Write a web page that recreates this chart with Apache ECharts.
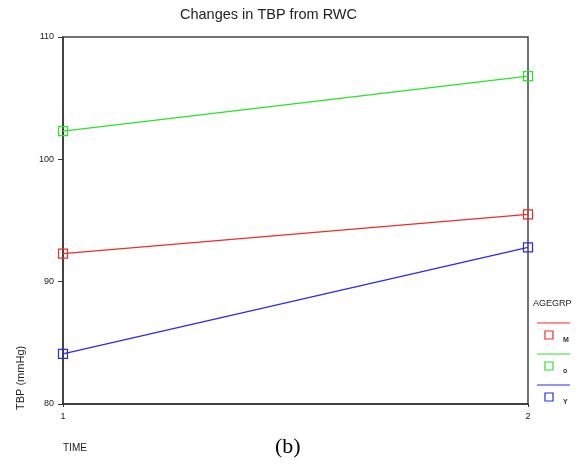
<!DOCTYPE html>
<html>
<head>
<meta charset="utf-8">
<script src="https://cdn.jsdelivr.net/npm/echarts@6/dist/echarts.min.js"></script>
<style>
html,body{margin:0;padding:0;background:#fff;}
#chart{width:581px;height:465px;}
</style>
</head>
<body>
<div id="chart"></div>
<script>
var timePoints = [1, 2];
var groupNames = ['M', 'o', 'Y'];
var valuesM = [92.3, 95.5];
var valuesO = [102.3, 106.8];
var valuesY = [84.1, 92.8];
var yTicks = [80, 90, 100, 110];
var colors = ['#f22a2a', '#26e626', '#2a2af2'];

var chart = echarts.init(document.getElementById('chart'));
function pts(vals){ return timePoints.map(function(t,i){ return [t, vals[i]]; }); }
var allVals = [valuesM, valuesO, valuesY];
var series = allVals.map(function(v, i){
  return {
    name: groupNames[i], type: 'line', data: pts(v),
    symbol: 'rect', symbolSize: 9,
    lineStyle: {color: colors[i], width: 1.2},
    itemStyle: {color: 'rgba(255,255,255,0)', borderColor: colors[i], borderWidth: 1.2},
    emphasis: {disabled: true}, animation: false
  };
});

var legendGraphics = [{type:'text', left: 533, top: 299, style:{text:'AGEGRP', font:'9px "Liberation Sans", Arial', fill:'#222'}}];
var legY = [323, 354, 385];
groupNames.forEach(function(n, i){
  legendGraphics.push({type:'line', shape:{x1:537, y1:legY[i], x2:570, y2:legY[i]}, style:{stroke:colors[i], lineWidth:1.2}});
  legendGraphics.push({type:'rect', shape:{x:545, y:legY[i]+8, width:8, height:8}, style:{stroke:colors[i], fill:'none', lineWidth:1.2}});
  legendGraphics.push({type:'text', left:563, top:legY[i]+14, style:{text:n, font:'bold 7px "Liberation Sans", Arial', fill:'#333'}});
});

chart.setOption({
  animation: false,
  title: {text: 'Changes in TBP from RWC', left: 263.5, top: 2, textAlign: 'center',
    textStyle: {fontFamily: '"Liberation Sans", Arial', fontWeight: 'normal', fontSize: 14.5, color: '#222'}},
  grid: {left: 63, right: 53, top: 37, bottom: 61, show: true, borderColor: '#444', borderWidth: 1.5,
    backgroundColor: 'transparent', containLabel: false, outerBoundsMode: 'none'},
  xAxis: {type: 'value', min: 1, max: 2, interval: 1,
    axisLine: {show: true, lineStyle: {color: '#333', width: 1.5}},
    axisTick: {show: true, length: 3, lineStyle: {color: '#333'}},
    splitLine: {show: false},
    axisLabel: {fontSize: 9, color: '#222', margin: 8, fontFamily: '"Liberation Sans", Arial'}},
  yAxis: {type: 'value', min: yTicks[0], max: yTicks[yTicks.length-1], interval: 10,
    axisLine: {show: true, lineStyle: {color: '#333', width: 1.5}},
    axisTick: {show: true, length: 5, lineStyle: {color: '#333'}},
    splitLine: {show: false},
    axisLabel: {fontSize: 9, color: '#222', margin: 9, fontFamily: '"Liberation Sans", Arial'}},
  series: series,
  graphic: legendGraphics.concat([
    {type:'text', x: 21, y: 410, rotation: Math.PI/2,
      style:{text:'TBP (mmHg)', font:'11px "Liberation Sans", Arial', fill:'#222', textAlign:'left', textVerticalAlign:'middle'}},
    {type:'text', left: 63, top: 443, style:{text:'TIME', font:'10px "Liberation Sans", Arial', fill:'#222'}},
    {type:'text', left: 275, top: 436, style:{text:'(b)', font:'22px "Liberation Serif", "Times New Roman", serif', fill:'#000'}}
  ])
});
</script>
</body>
</html>
